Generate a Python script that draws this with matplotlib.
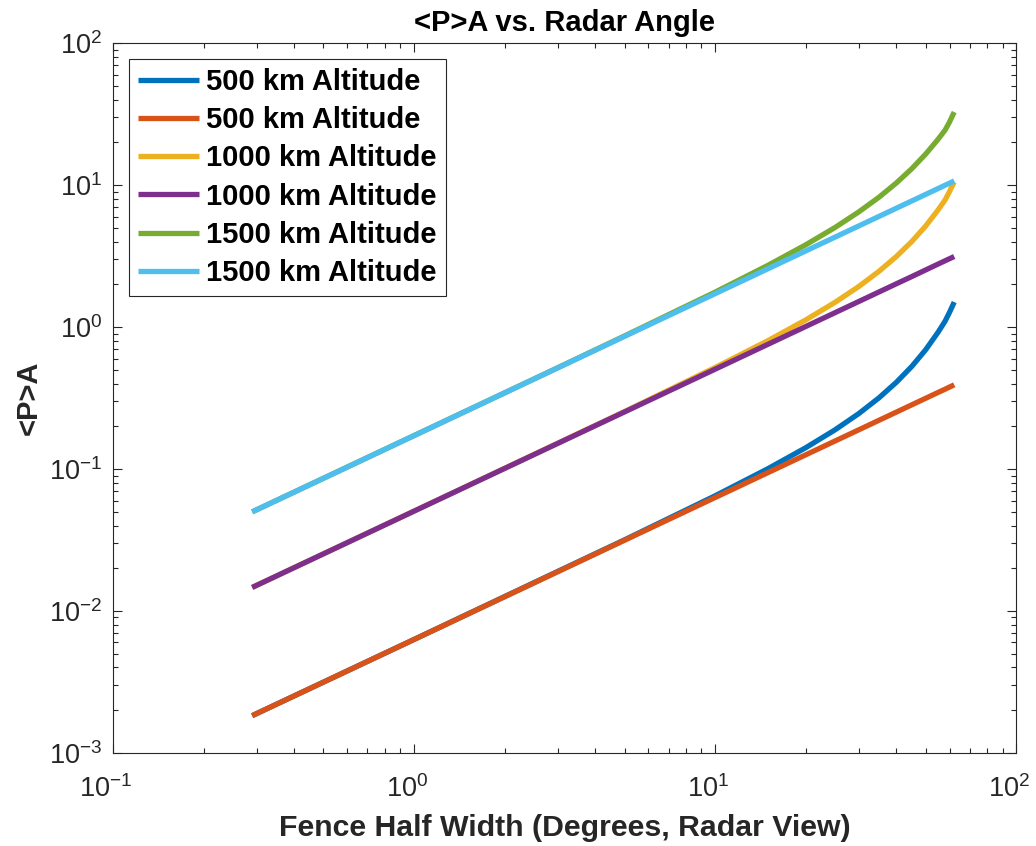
import matplotlib as mpl
mpl.use('Agg')
import matplotlib.pyplot as plt
import matplotlib.transforms as mtransforms

plt.rcParams['font.family'] = ['Liberation Sans', 'DejaVu Sans']
plt.rcParams['mathtext.fontset'] = 'custom'
plt.rcParams['mathtext.rm'] = 'Liberation Sans'
plt.rcParams['mathtext.it'] = 'Liberation Sans:italic'
plt.rcParams['mathtext.bf'] = 'Liberation Sans:bold'
plt.rcParams['axes.unicode_minus'] = False

# fence half width (degrees)
angle = [0.29, 1, 3, 5, 10, 15, 20, 25, 30, 35, 40, 45, 50, 55, 58, 60, 61, 62.2]

# <P>A for each altitude: curved (spherical earth) and straight (flat) versions
pa_500_curved = [0.00183, 0.0063, 0.019, 0.0317, 0.0648, 0.1008, 0.1414, 0.1888,
                 0.246, 0.3174, 0.409, 0.529, 0.692, 0.921, 1.10, 1.27, 1.37, 1.50]
pa_500_flat = [0.00183, 0.0063, 0.0189, 0.0315, 0.063, 0.0945, 0.126, 0.1575,
               0.189, 0.2205, 0.252, 0.2835, 0.315, 0.3465, 0.365, 0.378, 0.384, 0.392]
pa_1000_curved = [0.01465, 0.0505, 0.152, 0.254, 0.519, 0.804, 1.124, 1.493,
                  1.933, 2.472, 3.147, 4.01, 5.15, 6.69, 7.86, 9.0, 9.7, 10.5]
pa_1000_flat = [0.01465, 0.0505, 0.1515, 0.2525, 0.505, 0.7575, 1.01, 1.2625,
                1.515, 1.7675, 2.02, 2.27, 2.525, 2.78, 2.93, 3.03, 3.08, 3.14]
pa_1500_curved = [0.0499, 0.172, 0.517, 0.866, 1.763, 2.728, 3.80, 5.028,
                  6.48, 8.217, 10.37, 13.07, 16.54, 21.06, 24.4, 27.8, 30.0, 32.7]
pa_1500_flat = [0.0499, 0.172, 0.516, 0.86, 1.72, 2.58, 3.44, 4.30,
                5.16, 6.02, 6.88, 7.74, 8.6, 9.46, 9.98, 10.32, 10.49, 10.7]

series = [pa_500_curved, pa_500_flat, pa_1000_curved,
          pa_1000_flat, pa_1500_curved, pa_1500_flat]
labels = ['500 km Altitude', '500 km Altitude', '1000 km Altitude',
          '1000 km Altitude', '1500 km Altitude', '1500 km Altitude']
colors = ['#0072BD', '#D95319', '#EDB120', '#7E2F8E', '#77AC30', '#4DBEEE']

fig = plt.figure(figsize=(10.36, 8.46), dpi=100)
ax = fig.add_axes([0.109, 0.110, 0.872, 0.839])

for y, lab, c in zip(series, labels, colors):
    ax.plot(angle, y, color=c, lw=3.8, label=lab, solid_capstyle='butt')

ax.set_xscale('log')
ax.set_yscale('log')
ax.set_xlim(0.1, 100)
ax.set_ylim(1e-3, 100)
ax.set_xticks([0.1, 1, 10, 100])

axcol = '#262626'
for s in ax.spines.values():
    s.set_color(axcol)
    s.set_linewidth(0.8)
ax.tick_params(which='both', direction='in', top=True, right=True,
               colors=axcol, labelsize=19.5, width=0.8)
ax.tick_params(which='major', length=6.5)
ax.tick_params(which='minor', length=3.5)
ax.tick_params(axis='x', which='major', pad=16)
ax.tick_params(axis='y', which='major', pad=8)

# nudge x tick labels a little to the left so 10^2 stays inside the figure
shift = mtransforms.ScaledTranslation(-7 / 100, 0, fig.dpi_scale_trans)
for t in ax.xaxis.get_major_ticks():
    t.label1.set_transform(t.label1.get_transform() + shift)

ax.set_title('<P>A vs. Radar Angle', fontsize=21, fontweight='bold', pad=9)
ax.set_xlabel('Fence Half Width (Degrees, Radar View)', fontsize=21.8,
              fontweight='bold', color=axcol, labelpad=8)
ax.set_ylabel('<P>A', fontsize=21, fontweight='bold', color=axcol)

leg = ax.legend(loc='upper left', prop={'weight': 'bold', 'size': 21},
                fancybox=False, framealpha=1, edgecolor=axcol,
                handlelength=2.1, borderpad=0.3, labelspacing=0.35,
                handletextpad=0.25, borderaxespad=0.55)
leg.get_frame().set_linewidth(0.8)

fig.savefig('out.png', dpi=100)
